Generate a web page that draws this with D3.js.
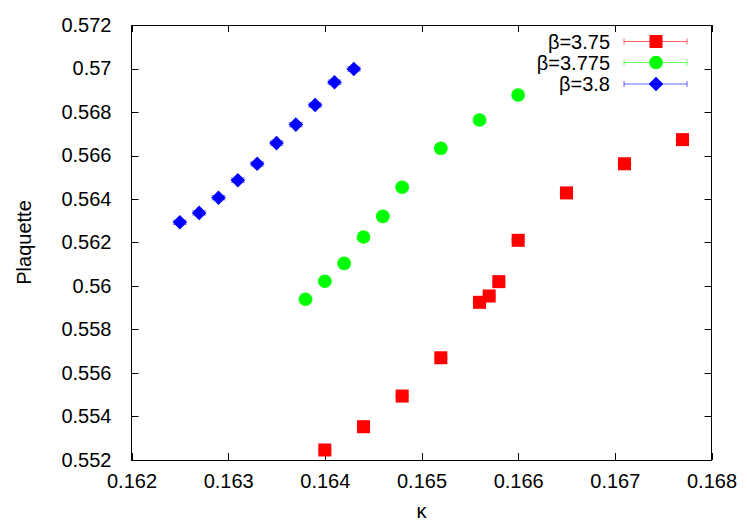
<!DOCTYPE html>
<html>
<head>
<meta charset="utf-8">
<script src="https://cdn.jsdelivr.net/npm/d3@7"></script>
<style>
  html, body { margin: 0; padding: 0; background: #fff; }
  svg { display: block; font-family: "Liberation Sans", Arial, Helvetica, sans-serif; }
</style>
</head>
<body>
<svg id="chart" width="747" height="523"></svg>
<script>
// ---- Data ----
const xTicks = [0.162, 0.163, 0.164, 0.165, 0.166, 0.167, 0.168];
const yTicks = [0.552, 0.554, 0.556, 0.558, 0.56, 0.562, 0.564, 0.566, 0.568, 0.57, 0.572];
const xTickLabels = ["0.162", "0.163", "0.164", "0.165", "0.166", "0.167", "0.168"];
const yTickLabels = ["0.552", "0.554", "0.556", "0.558", "0.56", "0.562", "0.564", "0.566", "0.568", "0.57", "0.572"];

const kappa375 = [0.1640, 0.1644, 0.1648, 0.1652, 0.1656, 0.1657, 0.1658, 0.1660, 0.1665, 0.1671, 0.1677];
const plaq375  = [0.55246, 0.55353, 0.55494, 0.55670, 0.55925, 0.55954, 0.56020, 0.56210, 0.56428, 0.56562, 0.56673];
const err375   = [0.00005, 0.00005, 0.00005, 0.00005, 0.00005, 0.00005, 0.00005, 0.00005, 0.00005, 0.00005, 0.00005];

const kappa3775 = [0.1638, 0.1640, 0.1642, 0.1644, 0.1646, 0.1648, 0.1652, 0.1656, 0.1660];
const plaq3775  = [0.55939, 0.56022, 0.56104, 0.56225, 0.56320, 0.56454, 0.56633, 0.56763, 0.56878];
const err3775   = [0.00005, 0.00005, 0.00005, 0.00005, 0.00005, 0.00005, 0.00005, 0.00005, 0.00005];

const kappa38 = [0.1625, 0.1627, 0.1629, 0.1631, 0.1633, 0.1635, 0.1637, 0.1639, 0.1641, 0.1643];
const plaq38  = [0.56293, 0.56336, 0.56406, 0.56486, 0.56562, 0.56657, 0.56742, 0.56832, 0.56937, 0.56998];
const err38   = [0.0001, 0.0001, 0.0001, 0.0001, 0.0001, 0.0001, 0.0001, 0.0001, 0.0001, 0.0001];

const seriesNames = ["β=3.75", "β=3.775", "β=3.8"];
const seriesColors = ["#ff0000", "#00ff00", "#0000ff"];
const seriesShapes = ["square", "circle", "diamond"];

const xLabel = "κ";
const yLabel = "Plaquette";

// ---- Layout ----
const svg = d3.select("#chart");
const mLeft = 131.5, mRight = 711.5, mTop = 25, mBottom = 460;

const x = d3.scaleLinear().domain([0.162, 0.168]).range([mLeft, mRight]);
const y = d3.scaleLinear().domain([0.552, 0.572]).range([mBottom, mTop]);

const fontSize = 20;
const tickLen = 7;

// ticks (inward, mirrored)
const g = svg.append("g");
xTicks.forEach(t => {
  const px = Math.round(x(t)) + 0.5;
  g.append("line").attr("x1", px).attr("x2", px).attr("y1", mBottom).attr("y2", mBottom - tickLen).attr("stroke", "#000");
  g.append("line").attr("x1", px).attr("x2", px).attr("y1", mTop).attr("y2", mTop + tickLen).attr("stroke", "#000");
});
yTicks.forEach(t => {
  const py = Math.round(y(t)) + 0.5;
  g.append("line").attr("x1", mLeft).attr("x2", mLeft + tickLen).attr("y1", py).attr("y2", py).attr("stroke", "#000");
  g.append("line").attr("x1", mRight).attr("x2", mRight - tickLen).attr("y1", py).attr("y2", py).attr("stroke", "#000");
});

// axes with labels via d3 axis (ticks hidden, labels only)
const xAxis = d3.axisBottom(x).tickValues(xTicks).tickFormat((d, i) => xTickLabels[i]).tickSize(0).tickPadding(14);
const yAxis = d3.axisLeft(y).tickValues(yTicks).tickFormat((d, i) => yTickLabels[i]).tickSize(0).tickPadding(20);

const gx = svg.append("g").attr("transform", `translate(0,${mBottom})`).call(xAxis);
const gy = svg.append("g").attr("transform", `translate(${mLeft},0)`).call(yAxis);
[gx, gy].forEach(a => {
  a.select(".domain").remove();
  a.selectAll("text").attr("font-size", fontSize).attr("fill", "#000")
    .attr("font-family", "'Liberation Sans', Arial, sans-serif");
});

// frame
svg.append("rect").attr("x", mLeft).attr("y", mTop + 0.5).attr("width", mRight - mLeft).attr("height", mBottom - mTop)
  .attr("fill", "none").attr("stroke", "#000").attr("stroke-width", 1);

// axis titles
svg.append("text").attr("x", (mLeft + mRight) / 2).attr("y", 518).attr("text-anchor", "middle")
  .attr("font-size", fontSize).text(xLabel);
svg.append("text").attr("transform", `translate(31,${(mTop + mBottom) / 2}) rotate(-90)`).attr("text-anchor", "middle")
  .attr("font-size", fontSize).text(yLabel);

// symbols
const S = 13;
function drawMarker(sel, shape, cx, cy, color) {
  if (shape === "square") {
    sel.append("rect").attr("x", cx - S / 2).attr("y", cy - S / 2).attr("width", S).attr("height", S).attr("fill", color);
  } else if (shape === "circle") {
    sel.append("circle").attr("cx", cx).attr("cy", cy).attr("r", S / 2 + 0.3).attr("fill", color);
  } else {
    const h = S / 2 + 0.8;
    sel.append("path").attr("d", `M${cx},${cy - h}L${cx + h},${cy}L${cx},${cy + h}L${cx - h},${cy}Z`).attr("fill", color);
  }
}

const allSeries = [
  { k: kappa375, p: plaq375, e: err375 },
  { k: kappa3775, p: plaq3775, e: err3775 },
  { k: kappa38, p: plaq38, e: err38 }
];

const plotG = svg.append("g");
allSeries.forEach((s, si) => {
  const color = seriesColors[si];
  const sg = plotG.append("g");
  s.k.forEach((kv, i) => {
    const cx = x(kv), cy = y(s.p[i]);
    const y1 = y(s.p[i] - s.e[i]), y2 = y(s.p[i] + s.e[i]);
    const cap = 7;
    sg.append("line").attr("x1", cx).attr("x2", cx).attr("y1", y1).attr("y2", y2).attr("stroke", color).attr("stroke-opacity", 0.5);
    sg.append("line").attr("x1", cx - cap).attr("x2", cx + cap).attr("y1", y1).attr("y2", y1).attr("stroke", color).attr("stroke-opacity", 0.5);
    sg.append("line").attr("x1", cx - cap).attr("x2", cx + cap).attr("y1", y2).attr("y2", y2).attr("stroke", color).attr("stroke-opacity", 0.5);
    drawMarker(sg, seriesShapes[si], cx, cy, color);
  });
});

// legend
const legRows = [41.5, 62.5, 84];
seriesNames.forEach((name, i) => {
  const ly = legRows[i];
  const color = seriesColors[i];
  svg.append("text").attr("x", 610).attr("y", ly).attr("dy", "0.35em").attr("text-anchor", "end")
    .attr("font-size", fontSize).text(name);
  const lg = svg.append("g");
  lg.append("line").attr("x1", 624).attr("x2", 687).attr("y1", ly).attr("y2", ly).attr("stroke", color).attr("stroke-opacity", 0.6);
  lg.append("line").attr("x1", 624).attr("x2", 624).attr("y1", ly - 3).attr("y2", ly + 3).attr("stroke", color).attr("stroke-opacity", 0.6);
  lg.append("line").attr("x1", 687).attr("x2", 687).attr("y1", ly - 3).attr("y2", ly + 3).attr("stroke", color).attr("stroke-opacity", 0.6);
  drawMarker(lg, seriesShapes[i], 656, ly, color);
});
</script>
</body>
</html>
